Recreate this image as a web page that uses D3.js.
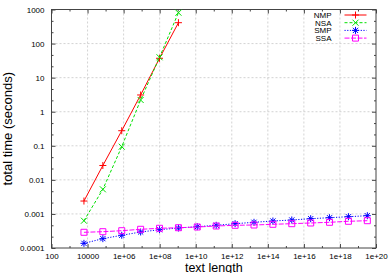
<!DOCTYPE html>
<html>
<head>
<meta charset="utf-8">
<script src="https://cdn.jsdelivr.net/npm/d3@7"></script>
<style>
  body { margin: 0; background: #fff; }
  text { font-family: "Liberation Sans", Arial, sans-serif; fill: #000; }
</style>
</head>
<body>
<div id="chart"></div>
<script>
// values
var textLength = [6.3e3, 7.05e4, 7.87e5, 8.79e6, 9.82e7, 1.10e9, 1.22e10, 1.37e11,
                  1.53e12, 1.71e13, 1.91e14, 2.13e15, 2.38e16, 2.65e17, 2.96e18, 3.31e19];
var nmpTime = [0.00239, 0.0264, 0.277, 3.10, 37.0, 410];
var nsaTime = [0.000632, 0.00528, 0.094, 2.21, 39.6, 806];
var smpTime = [1.37e-4, 1.88e-4, 2.36e-4, 2.95e-4, 3.44e-4, 3.86e-4, 4.22e-4, 4.64e-4,
               5.17e-4, 5.68e-4, 6.20e-4, 6.64e-4, 7.25e-4, 7.75e-4, 8.29e-4, 8.87e-4];
var ssaTime = [2.89e-4, 3.01e-4, 3.22e-4, 3.54e-4, 3.79e-4, 3.94e-4, 4.13e-4, 4.42e-4,
               4.64e-4, 4.73e-4, 4.96e-4, 5.17e-4, 5.42e-4, 5.68e-4, 6.08e-4, 6.33e-4];
var seriesNames = ["NMP", "NSA", "SMP", "SSA"];
var xTickValues = [1e2, 1e4, 1e6, 1e8, 1e10, 1e12, 1e14, 1e16, 1e18, 1e20];
var xTickLabels = ["100", "10000", "1e+06", "1e+08", "1e+10", "1e+12", "1e+14", "1e+16", "1e+18", "1e+20"];
var yTickValues = [1e-4, 1e-3, 1e-2, 1e-1, 1, 10, 100, 1000];
var yTickLabels = ["0.0001", "0.001", "0.01", "0.1", "1", "10", "100", "1000"];

var svgWidth = 390;
var svgHeight = 273;
var margin = { top: 9.5, right: 14, bottom: 25, left: 51.5 };
var width = svgWidth - margin.left - margin.right;
var height = svgHeight - margin.top - margin.bottom;

var svg = d3.select("#chart")
  .append("svg")
  .attr("width", svgWidth)
  .attr("height", svgHeight);

var chartGroup = svg.append("g")
  .attr("transform", `translate(${margin.left}, ${margin.top})`);

var xScale = d3.scaleLog().domain([1e2, 1e20]).range([0, width]);
var yScale = d3.scaleLog().domain([1e-4, 1e3]).range([height, 0]);

// grid lines
chartGroup.append("g")
  .selectAll("line")
  .data(xTickValues.slice(1, -1))
  .enter()
  .append("line")
  .attr("x1", d => xScale(d)).attr("x2", d => xScale(d))
  .attr("y1", 0).attr("y2", height)
  .attr("stroke", "#c8c8c8").attr("stroke-width", 0.8)
  .attr("stroke-dasharray", "2,2");

chartGroup.append("g")
  .selectAll("line")
  .data(yTickValues.slice(1, -1))
  .enter()
  .append("line")
  .attr("y1", d => yScale(d)).attr("y2", d => yScale(d))
  .attr("x1", 0).attr("x2", width)
  .attr("stroke", "#c8c8c8").attr("stroke-width", 0.8)
  .attr("stroke-dasharray", "2,2");

// minor tick positions: odd decades on x, thirds of a decade on y
var xMinor = d3.range(3, 20, 2).map(e => Math.pow(10, e));
var yMinor = [];
d3.range(-4, 3).forEach(function(e) {
  yMinor.push(Math.pow(10, e + 1 / 3), Math.pow(10, e + 2 / 3));
});

// axes on all four sides, ticks pointing inward like gnuplot
var fmtX = d => xTickLabels[xTickValues.indexOf(d)];
var fmtY = d => yTickLabels[yTickValues.indexOf(d)];

function styleAxis(g) {
  g.select(".domain").remove();
  g.selectAll(".tick line").attr("stroke", "#444");
  g.selectAll(".tick text").style("font-size", "8px");
}

chartGroup.append("g")
  .attr("transform", `translate(0, ${height})`)
  .call(d3.axisBottom(xScale).tickValues(xTickValues).tickFormat(fmtX).tickSizeInner(-4).tickPadding(5))
  .call(styleAxis);
chartGroup.append("g")
  .attr("transform", `translate(0, ${height})`)
  .call(d3.axisBottom(xScale).tickValues(xMinor).tickFormat("").tickSizeInner(-2))
  .call(styleAxis);
chartGroup.append("g")
  .call(d3.axisTop(xScale).tickValues(xTickValues).tickFormat("").tickSizeInner(-4))
  .call(styleAxis);
chartGroup.append("g")
  .call(d3.axisTop(xScale).tickValues(xMinor).tickFormat("").tickSizeInner(-2))
  .call(styleAxis);

chartGroup.append("g")
  .call(d3.axisLeft(yScale).tickValues(yTickValues).tickFormat(fmtY).tickSizeInner(-4).tickPadding(7))
  .call(styleAxis);
chartGroup.append("g")
  .call(d3.axisLeft(yScale).tickValues(yMinor).tickFormat("").tickSizeInner(-2))
  .call(styleAxis);
chartGroup.append("g")
  .attr("transform", `translate(${width}, 0)`)
  .call(d3.axisRight(yScale).tickValues(yTickValues).tickFormat("").tickSizeInner(-4))
  .call(styleAxis);
chartGroup.append("g")
  .attr("transform", `translate(${width}, 0)`)
  .call(d3.axisRight(yScale).tickValues(yMinor).tickFormat("").tickSizeInner(-2))
  .call(styleAxis);

// border box
chartGroup.append("rect")
  .attr("width", width).attr("height", height)
  .attr("fill", "none").attr("stroke", "#444").attr("stroke-width", 1);

// series
var symbols = {
  plus: "M-3.5,0H3.5M0,-3.5V3.5",
  cross: "M-3,-3L3,3M-3,3L3,-3",
  star: "M-3.5,0H3.5M0,-3.5V3.5M-2.6,-2.6L2.6,2.6M-2.6,2.6L2.6,-2.6",
  square: "M-3,-3H3V3H-3Z"
};

var series = [
  { name: seriesNames[0], values: nmpTime, color: "#ff0000", dash: null, symbol: "plus" },
  { name: seriesNames[1], values: nsaTime, color: "#00e000", dash: "3,2", symbol: "cross" },
  { name: seriesNames[2], values: smpTime, color: "#0000ff", dash: "1.2,1.5", symbol: "star" },
  { name: seriesNames[3], values: ssaTime, color: "#ff00ff", dash: "5,1.5", symbol: "square" }
];

var line = d3.line()
  .x(d => xScale(d[0]))
  .y(d => yScale(d[1]));

series.forEach(function(s) {
  var pts = s.values.map((v, i) => [textLength[i], v]);
  chartGroup.append("path")
    .attr("d", line(pts))
    .attr("fill", "none")
    .attr("stroke", s.color)
    .attr("stroke-width", 1)
    .attr("stroke-dasharray", s.dash);
  chartGroup.append("g")
    .selectAll("path")
    .data(pts)
    .enter()
    .append("path")
    .attr("transform", d => `translate(${xScale(d[0])}, ${yScale(d[1])})`)
    .attr("d", symbols[s.symbol])
    .attr("fill", "none")
    .attr("stroke", s.color)
    .attr("stroke-width", 1);
});

// legend
var legend = chartGroup.append("g")
  .attr("transform", "translate(280, 5.5)");
series.forEach(function(s, i) {
  var row = legend.append("g").attr("transform", `translate(0, ${i * 7.7})`);
  row.append("text")
    .attr("x", 0).attr("y", 3)
    .attr("text-anchor", "end")
    .style("font-size", "8px")
    .text(s.name);
  row.append("line")
    .attr("x1", 13).attr("x2", 35)
    .attr("stroke", s.color).attr("stroke-width", 1)
    .attr("stroke-dasharray", s.dash);
  row.append("path")
    .attr("transform", "translate(24, 0)")
    .attr("d", symbols[s.symbol])
    .attr("fill", "none").attr("stroke", s.color);
});

// axis titles
svg.append("text")
  .attr("x", margin.left + width / 2)
  .attr("y", 271.5)
  .attr("text-anchor", "middle")
  .style("font-size", "12.5px")
  .text("text length");

svg.append("text")
  .attr("transform", `translate(12, ${margin.top + height / 2}) rotate(-90)`)
  .attr("text-anchor", "middle")
  .style("font-size", "13px")
  .text("total time (seconds)");
</script>
</body>
</html>
